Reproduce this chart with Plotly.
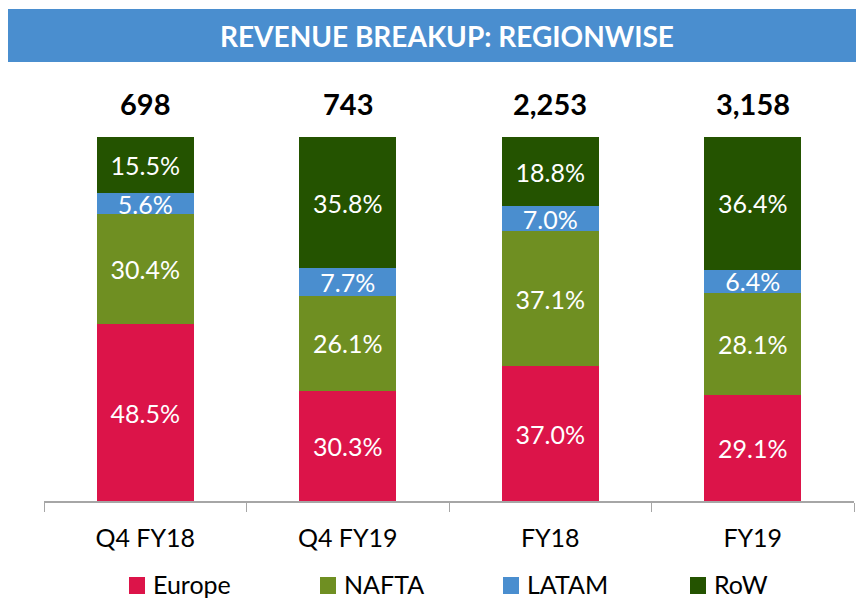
import plotly.graph_objects as go

categories = ["Q4 FY18", "Q4 FY19", "FY18", "FY19"]
totals = ["698", "743", "2,253", "3,158"]
europe = [48.5, 30.3, 37.0, 29.1]
nafta = [30.4, 26.1, 37.1, 28.1]
latam = [5.6, 7.7, 7.0, 6.4]
row = [15.5, 35.8, 18.8, 36.4]

series_names = ["Europe", "NAFTA", "LATAM", "RoW"]
series_values = [europe, nafta, latam, row]
series_colors = ["#DC1449", "#6F8F22", "#4A8ECF", "#245300"]

FONT = "Lato, Roboto, Arial, sans-serif"

# page body has an 8px margin; figure is drawn at offset (8, 8)
OFF = 8
W, H = 864 - OFF, 598 - OFF
# plot area in page pixels: x 44..854, y 137..501
L, R, T, B = 44, 854, 137, 501
def px(x):
    return (x - L) / (R - L)
def py(y):
    return (B - y) / (B - T)

fig = go.Figure()
for name, vals, col in zip(series_names, series_values, series_colors):
    fig.add_trace(go.Bar(
        x=categories, y=vals, name=name, marker=dict(color=col, line=dict(width=0)),
        texttemplate="%{y:.1f}%", textposition="inside", insidetextanchor="middle",
        textfont=dict(color="white", size=25, family=FONT), width=0.48,
        showlegend=False, cliponaxis=False,
    ))

for c, t in zip(categories, totals):
    fig.add_annotation(x=c, y=100, xref="x", yref="y", text="<b>%s</b>" % t,
                       showarrow=False, yshift=34, font=dict(size=29, color="black", family=FONT))

# title band
fig.add_shape(type="rect", xref="paper", yref="paper", x0=px(7), x1=px(866),
              y0=py(62), y1=py(9), fillcolor="#4A8ECF", line=dict(width=0), layer="below")
fig.add_annotation(xref="paper", yref="paper", x=px(447), y=py(36),
                   text="<b>REVENUE BREAKUP: REGIONWISE</b>", showarrow=False,
                   xanchor="center", yanchor="middle",
                   font=dict(size=28, color="white", family=FONT))

# manual legend
leg_x = [129, 320, 503, 690]
for name, col, lx in zip(series_names, series_colors, leg_x):
    fig.add_shape(type="rect", xref="paper", yref="paper", x0=px(lx), x1=px(lx + 16),
                  y0=py(594), y1=py(577), fillcolor=col, line=dict(width=0))
    fig.add_annotation(xref="paper", yref="paper", x=px(lx + 22), y=py(584), text=name,
                       showarrow=False, xanchor="left", yanchor="middle",
                       font=dict(size=25, color="black", family=FONT))

fig.update_layout(
    width=W, height=H, barmode="stack", plot_bgcolor="white", paper_bgcolor="white",
    margin=dict(l=L - OFF, r=864 - R, t=T - OFF, b=598 - B, autoexpand=False),
    uniformtext=dict(minsize=25, mode="show"),
    showlegend=False,
    font=dict(family=FONT),
)
fig.update_xaxes(range=[-0.5, 3.5], showline=True, linecolor="#A6A6A6", linewidth=1.5,
                 ticks="outside", tickson="boundaries", ticklen=9, tickcolor="#A6A6A6",
                 tickfont=dict(size=25, color="black", family=FONT), ticklabelstandoff=14,
                 automargin=False)
fig.update_yaxes(range=[0, 100], visible=False)

fig.write_html("out.html")
